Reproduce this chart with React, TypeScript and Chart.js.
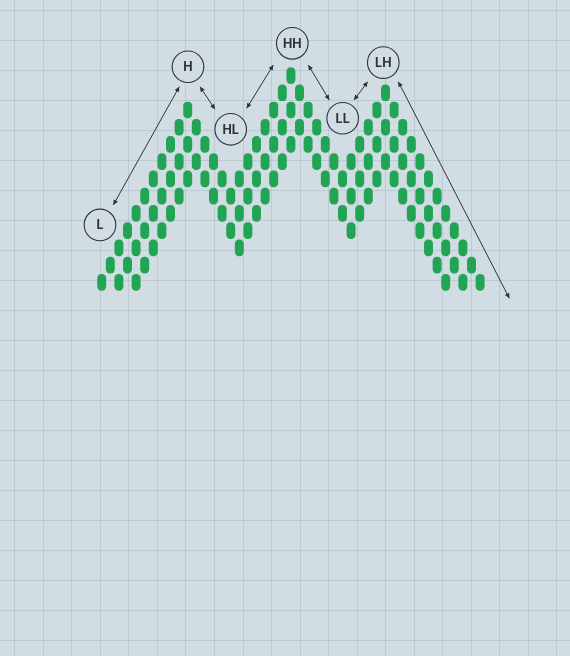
import { useEffect, useRef } from 'react';
import { Chart, registerables } from 'chart.js';

Chart.register(...registerables);

// box columns of the point & figure style swing chart, left to right
const topRow = [
  0, 1, 2, 3, 4, 5, 6, 7, 8, 9, 10,
  9, 8, 7, 6, 5,
  6, 7, 8, 9, 10, 11, 12,
  11, 10, 9, 8, 7, 6,
  7, 8, 9, 10, 11,
  10, 9, 8, 7, 6, 5, 4, 3, 2, 1, 0,
];
const bottomRow = [
  0, 1, 0, 1, 0, 1, 2, 3, 4, 5, 6,
  7, 6, 5, 4, 3,
  2, 3, 4, 5, 6, 7, 8,
  9, 8, 7, 6, 5, 4,
  3, 4, 5, 6, 7,
  6, 5, 4, 3, 2, 1, 0, 1, 0, 1, 0,
];
const columns = topRow.map((_, i) => i);

// swing labels (column, row)
const pivotLabels = ['L', 'H', 'HL', 'HH', 'LL', 'LH'];
const pivotCol = [-0.2, 10.03, 15.0, 22.16, 28.02, 32.74];
const pivotRow = [3.33, 12.51, 8.88, 13.87, 9.52, 12.75];

// double headed arrows between swings (column, row)
const arrowFrom: [number, number][] = [[1.35, 4.49], [11.43, 11.35], [16.86, 10.1], [24.02, 12.61], [29.34, 10.58], [34.49, 11.64]];
const arrowTo: [number, number][] = [[9.02, 11.35], [13.17, 10.04], [19.95, 12.61], [26.47, 10.58], [30.93, 11.64], [47.4, -0.93]];

const BG = '#d2dce3';
const GREEN = '#21a454';
const INK = '#2a333d';
const GRID = 'rgba(110,130,150,0.2)';
const BOX_HALF = 0.465;

const gridTicks = (start: number, step: number, end: number) => {
  const out: { value: number }[] = [];
  for (let v = start; v <= end; v += step) out.push({ value: v });
  return out;
};

const head = (ctx: CanvasRenderingContext2D, x: number, y: number, ang: number) => {
  const len = 5, w = 2.4;
  ctx.beginPath();
  ctx.moveTo(x, y);
  ctx.lineTo(x - len * Math.cos(ang) + w * Math.sin(ang), y - len * Math.sin(ang) - w * Math.cos(ang));
  ctx.lineTo(x - len * Math.cos(ang) - w * Math.sin(ang), y - len * Math.sin(ang) + w * Math.cos(ang));
  ctx.closePath();
  ctx.fill();
};

const pivotPlugin = {
  id: 'pivots',
  afterDatasetsDraw(chart: Chart) {
    const { ctx } = chart;
    const xs = chart.scales.x, ys = chart.scales.y;
    ctx.save();
    ctx.strokeStyle = INK;
    ctx.fillStyle = INK;
    ctx.lineWidth = 1;
    arrowFrom.forEach((a, i) => {
      const b = arrowTo[i];
      const x1 = xs.getPixelForValue(a[0]), y1 = ys.getPixelForValue(a[1]);
      const x2 = xs.getPixelForValue(b[0]), y2 = ys.getPixelForValue(b[1]);
      ctx.beginPath();
      ctx.moveTo(x1, y1);
      ctx.lineTo(x2, y2);
      ctx.stroke();
      const ang = Math.atan2(y2 - y1, x2 - x1);
      head(ctx, x2, y2, ang);
      head(ctx, x1, y1, ang + Math.PI);
    });
    pivotLabels.forEach((label, i) => {
      const x = xs.getPixelForValue(pivotCol[i]), y = ys.getPixelForValue(pivotRow[i]);
      ctx.beginPath();
      ctx.arc(x, y, 15.8, 0, Math.PI * 2);
      ctx.fillStyle = BG;
      ctx.fill();
      ctx.lineWidth = 1.1;
      ctx.stroke();
      ctx.fillStyle = INK;
      ctx.font = '700 12.5px Inter, "Noto Sans", sans-serif';
      ctx.textAlign = 'center';
      ctx.textBaseline = 'middle';
      ctx.fillText(label, x, y + 0.5);
    });
    ctx.restore();
  },
};

export default function App() {
  const ref = useRef<HTMLCanvasElement>(null);
  const chartRef = useRef<Chart | null>(null);

  useEffect(() => {
    if (!ref.current) return;
    const layers = [0, 1, 2].map(k => ({
      label: `box ${k + 1}`,
      data: columns.flatMap(c => {
        const row = topRow[c] - 2 * k;
        return row >= bottomRow[c] ? [{ x: c, y: [row - BOX_HALF, row + BOX_HALF] }] : [];
      }),
      backgroundColor: GREEN,
      borderWidth: 0,
      borderSkipped: false,
      borderRadius: 4.2,
      barThickness: 8.3,
      grouped: false,
    }));

    chartRef.current?.destroy();
    chartRef.current = new Chart(ref.current, {
      type: 'bar',
      data: { datasets: layers as any },
      plugins: [pivotPlugin],
      options: {
        animation: false,
        responsive: true, maintainAspectRatio: false,
        layout: { padding: 0 },
        plugins: { legend: { display: false }, tooltip: { enabled: false } },
        scales: {
          x: { type: 'linear', offset: false, min: -11.826, max: 54.453, display: false },
          y: { type: 'linear', min: -21.689, max: 16.384, display: false },
          gx: {
            type: 'linear', axis: 'x', position: 'bottom', min: 0, max: 570,
            ticks: { display: false }, border: { display: false },
            grid: { color: GRID, drawTicks: false },
            afterBuildTicks: (s: any) => { s.ticks = gridTicks(15, 30.09, 570); },
          },
          gy: {
            type: 'linear', axis: 'y', position: 'left', reverse: true, min: 0, max: 656,
            ticks: { display: false }, border: { display: false },
            grid: { color: GRID, drawTicks: false },
            afterBuildTicks: (s: any) => { s.ticks = gridTicks(10, 30.03, 656); },
          },
        } as any,
      },
    });
    return () => { chartRef.current?.destroy(); };
  }, []);

  return (
    <div style={{ position: 'fixed', left: 0, top: 0, width: 570, height: 656, background: BG }}>
      <canvas ref={ref} />
    </div>
  );
}
